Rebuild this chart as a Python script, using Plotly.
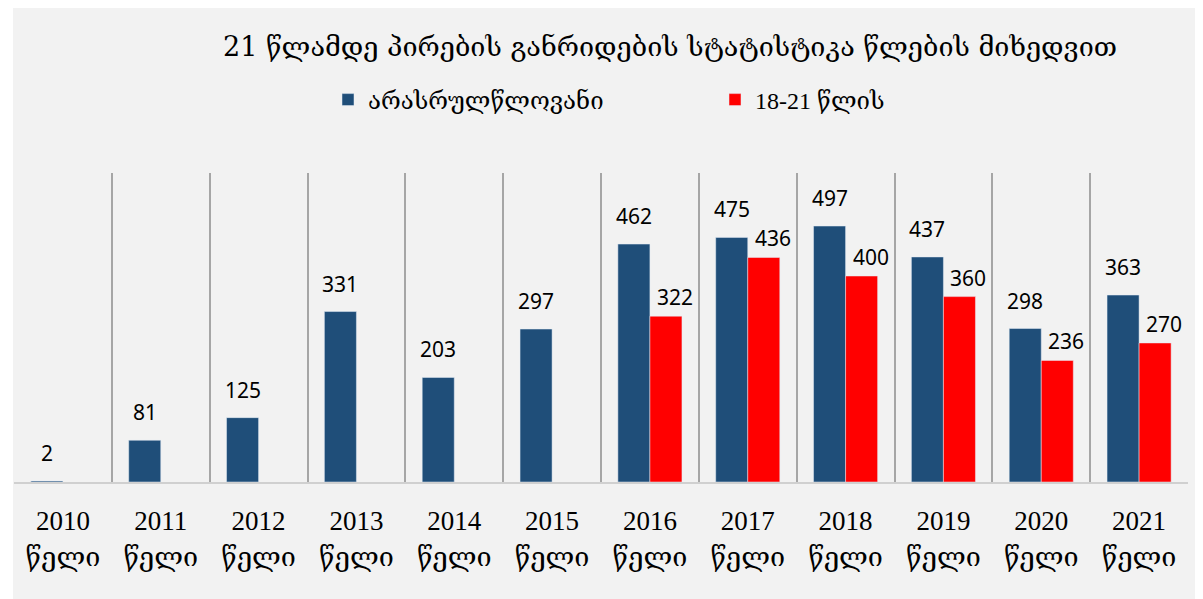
import plotly.graph_objects as go

years = ["2010", "2011", "2012", "2013", "2014", "2015", "2016", "2017", "2018", "2019", "2020", "2021"]
year_word = "წელი"
categories = [f"{y}<br>{year_word}" for y in years]
minors = [2, 81, 125, 331, 203, 297, 462, 475, 497, 437, 298, 363]
young_adults = [None, None, None, None, None, None, 322, 436, 400, 360, 236, 270]
series_names = ["არასრულწლოვანი", "18-21 წლის"]
title_text = "21 წლამდე პირების განრიდების სტატისტიკა წლების მიხედვით"

BLUE = "#1F4E79"
RED = "#FF0000"
OFF = 8  # default page body margin
W, H = 1203 - OFF, 599 - OFF
ML, MR, MT, MB = 14 - OFF, 15, 173 - OFF, 117
PW, PH = W - ML - MR, H - MT - MB
SERIF = "Liberation Serif, DejaVu Serif"

fig = go.Figure()
fig.add_trace(go.Bar(x=categories, y=minors, name=series_names[0], marker_color=BLUE))
fig.add_trace(go.Bar(x=categories, y=young_adults, name=series_names[1], marker_color=RED))

cat_w = PW / len(categories)
bargap = 0.345
bar_w = cat_w * (1 - bargap) / 2

annotations = []
for c, v in zip(categories, minors):
    if v is not None:
        annotations.append(dict(x=c, y=v, text=str(v), showarrow=False, xref="x", yref="y",
                                xanchor="center", yanchor="bottom", xshift=-bar_w / 2, yshift=12,
                                font=dict(family="Noto Sans", size=21, color="#000000")))
for c, v in zip(categories, young_adults):
    if v is not None:
        annotations.append(dict(x=c, y=v, text=str(v), showarrow=False, xref="x", yref="y",
                                xanchor="center", yanchor="bottom", xshift=bar_w / 2 + 9, yshift=3,
                                font=dict(family="Noto Sans", size=21, color="#000000")))

fig.update_layout(
    width=W, height=H,
    margin=dict(l=ML, r=MR, t=MT, b=MB, pad=0),
    paper_bgcolor="#F2F2F2",
    plot_bgcolor="#F2F2F2",
    barmode="group",
    bargap=bargap,
    bargroupgap=0,
    title=dict(text=title_text, xref="container", yref="container", x=(670 - OFF) / W, y=1 - (47 - OFF) / H,
               xanchor="center", yanchor="middle",
               font=dict(family="DejaVu Serif", size=27, color="#000000")),
    legend=dict(orientation="h", xref="container", yref="container", x=(328 - OFF) / W, y=1 - (100 - OFF) / H,
                xanchor="left", yanchor="middle", entrywidth=342, entrywidthmode="pixels",
                bgcolor="rgba(0,0,0,0)",
                font=dict(family=SERIF, size=24, color="#000000")),
    annotations=annotations,
    shapes=[
        dict(type="rect", xref="paper", yref="paper", x0=-ML / PW, x1=-1 / PW,
             y0=-MB / PH, y1=1 + MT / PH, fillcolor="#FFFFFF", line_width=0, layer="below"),
    ],
    showlegend=True,
)
fig.update_xaxes(
    type="category", tickson="boundaries", ticks="", showgrid=True, gridcolor="#A6A6A6", gridwidth=1.5,
    showline=True, linecolor="#D0D0D0", linewidth=2,
    tickfont=dict(family=SERIF, size=27, color="#000000"),
    ticklabelstandoff=14,
)
fig.update_yaxes(range=[0, 600], showgrid=False, showticklabels=False, zeroline=False, showline=False)

fig.write_html("out.html")
